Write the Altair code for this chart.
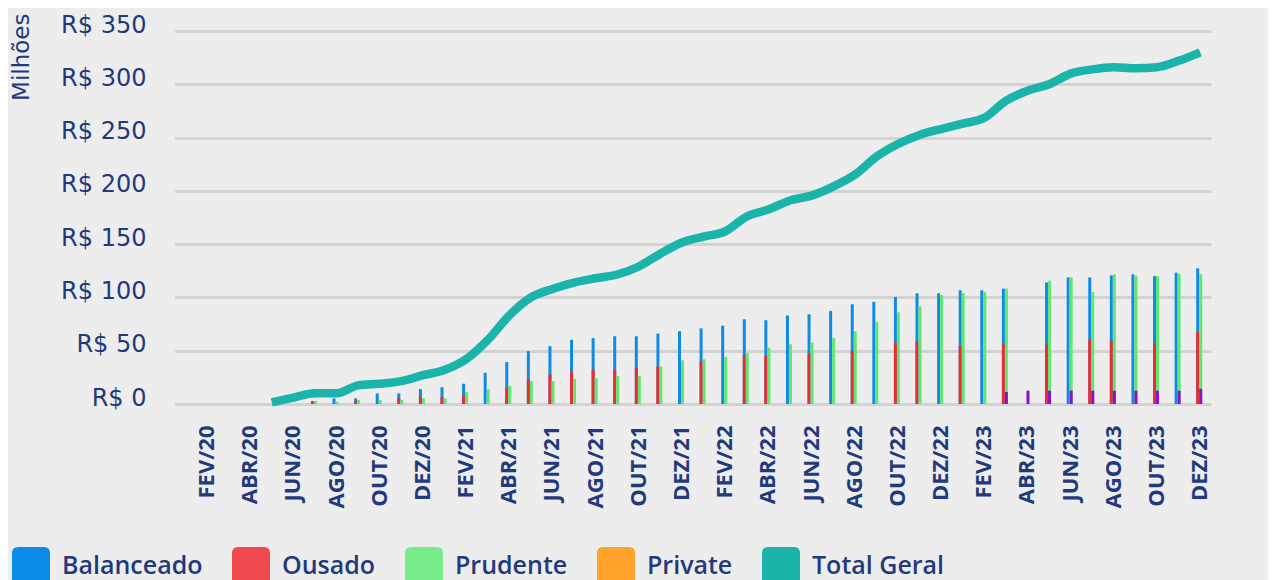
import altair as alt
import pandas as pd

meses = [
    "JAN/20", "FEV/20", "MAR/20", "ABR/20", "MAI/20", "JUN/20", "JUL/20", "AGO/20", "SET/20", "OUT/20", "NOV/20", "DEZ/20",
    "JAN/21", "FEV/21", "MAR/21", "ABR/21", "MAI/21", "JUN/21", "JUL/21", "AGO/21", "SET/21", "OUT/21", "NOV/21", "DEZ/21",
    "JAN/22", "FEV/22", "MAR/22", "ABR/22", "MAI/22", "JUN/22", "JUL/22", "AGO/22", "SET/22", "OUT/22", "NOV/22", "DEZ/22",
    "JAN/23", "FEV/23", "MAR/23", "ABR/23", "MAI/23", "JUN/23", "JUL/23", "AGO/23", "SET/23", "OUT/23", "NOV/23", "DEZ/23",
]
rotulos_eixo = meses[1::2]

N = None
balanceado = [N, N, N, N, N, N, N, 5.3, 5.3, 10, 10, 14,
              15.8, 19, 29.3, 39.3, 49.6, 54.3, 60.2, 61.8, 63.6, 63.6, 66.1, 68.3,
              71, 73.5, 79.5, 78.6, 83, 84.2, 87.3, 93.6, 95.8, 100.4, 103.9, 103.9,
              106.7, 106.7, 108.3, N, 114, 118.8, 118.8, 120.7, 121.7, 120, 123.2, 127.3]
ousado = [N, N, N, N, N, N, 2.8, N, 2.8, N, 5.3, 6.9,
          6.7, 8.2, N, 15.6, 23.5, 27.8, 30.6, 32.1, 32.1, 33.7, 35.2, N,
          40.2, N, 45.8, 45.5, N, 47, N, 50, N, 57.7, 59, N,
          54.6, N, 56, N, 55.8, N, 60.5, 59.3, N, 57.4, N, 67.7]
prudente = [N, N, N, N, N, N, 2.8, 2.2, 3.7, 3.7, 3.7, 5.3,
            5.3, 11.2, 14, 17, 21.6, 21.5, 23.4, 24.3, 26.2, 26.2, 35.2, 41,
            42, 44.3, 47.7, 53, 56, 57.7, 61.8, 68.3, 77, 86, 91.7, 102.3,
            103.9, 105, 108.3, N, 115.7, 118.8, 105, 121.7, 120.4, 120, 122, 121.7]
private = [N] * 38 + [11.2, 12.5, 12.5, 12.5, 12.5, 12.5, 12.5, 12.5, 12.5, 14.3]
total_geral = [N, N, N, N, 1.5, 6, 10, 10, 17.5, 19, 21.5, 27,
               32, 42, 60, 83, 100, 108, 114, 118, 121.5, 129, 141, 151.5,
               157, 162, 176, 182.5, 191, 195.5, 204, 215, 232, 244, 252.5, 258,
               263, 268.5, 284.5, 294, 300, 310, 314, 316, 315, 316, 322, 330]

series_legenda = ["Balanceado", "Ousado", "Prudente", "Private", "Total Geral"]
cores_legenda = ["#0a8ce8", "#f04950", "#78eb8b", "#ffa32b", "#1bb4ab"]
ticks_y = [0, 50, 100, 150, 200, 250, 300, 350]

linhas = []
for serie, valores in [("Balanceado", balanceado), ("Ousado", ousado), ("Prudente", prudente),
                       ("Private", private), ("Total Geral", total_geral)]:
    for mes, v in zip(meses, valores):
        if v is not None:
            linhas.append({"mes": mes, "serie": serie, "valor": v})
df = pd.DataFrame(linhas)

NAVY = "#1f3a7d"

x = alt.X(
    "mes:N",
    sort=meses,
    scale=alt.Scale(type="band", domain=meses, paddingInner=0, paddingOuter=0, range=[6.6, 1043]),
    axis=alt.Axis(values=rotulos_eixo, labelAngle=-90, labelFont="Open Sans", labelFontWeight="bold",
                  labelFontSize=22, labelColor=NAVY, labelPadding=21, ticks=False, domain=False,
                  grid=False, title=None),
)
y = alt.Y(
    "valor:Q",
    scale=alt.Scale(domain=[0, 350], nice=False),
    axis=alt.Axis(values=ticks_y, labelExpr="'R$ ' + datum.value", labelFont="DejaVu Sans",
                  labelFontSize=24, labelColor=NAVY, labelPadding=22, labelOffset=-6,
                  ticks=False, domain=False, grid=True, gridColor="#d3d3d3", gridWidth=3,
                  title="Milhões", titleFont="DejaVu Sans", titleFontSize=23, titleFontWeight="normal",
                  titleColor=NAVY, titleAngle=-90, titleX=-147, titleY=-18, titleAlign="right",
                  titleBaseline="middle"),
)

base = alt.Chart(df)

def barras(serie, cor, desloc):
    return base.transform_filter(alt.datum.serie == serie).mark_bar(
        width=3, xOffset=desloc, color=cor
    ).encode(x=x, y=y)

simbolo = "M-0.68,-1H0.68Q1,-1 1,-0.68V0.68Q1,1 0.68,1H-0.68Q-1,1 -1,0.68V-0.68Q-1,-1 -0.68,-1Z"

legenda = base.transform_filter("false").mark_bar().encode(
    x=x,
    y=y,
    color=alt.Color(
        "serie:N",
        scale=alt.Scale(domain=series_legenda, range=cores_legenda),
        legend=alt.Legend(orient="none", legendX=-156, legendY=516, direction="horizontal",
                          title=None, symbolType=simbolo, symbolSize=1444, symbolStrokeWidth=0,
                          symbolOpacity=1, labelFont="Open Sans", labelFontSize=25,
                          labelFontWeight=600, labelColor=NAVY, labelOffset=12, columnPadding=29,
                          padding=0, labelLimit=0),
    ),
)

linha = base.transform_filter(alt.datum.serie == "Total Geral").mark_line(
    color="#1bb4ab", strokeWidth=8.5, interpolate="monotone", strokeCap="butt"
).encode(x=x, y=y)

chart = alt.layer(
    legenda,
    barras("Balanceado", "#0f8be6", -2.5),
    barras("Ousado", "#ee2a33", -2.5),
    barras("Prudente", "#5fe870", 0.5),
    barras("Private", "#8b0fd0", 0.5),
    linha,
).properties(
    width=1098, height=373,
    autosize=alt.AutoSizeParams(type="none"),
    padding={"left": 160, "top": 23, "right": 2, "bottom": 176},
    background="#ededed",
).configure_view(stroke=None)

chart.save("out.html", embed_options={"renderer": "svg", "actions": False})
